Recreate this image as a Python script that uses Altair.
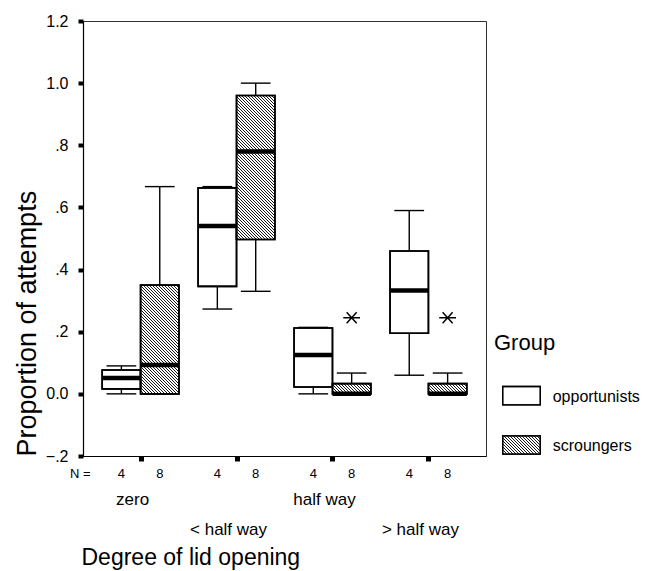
import altair as alt
import pandas as pd
import numpy as np

# ---------------- data ----------------
categories = ["zero", "< half way", "half way", "> half way"]
groups = ["opportunists", "scroungers"]
counts = [4, 8]

opp_low = [0.000, 0.273, 0.000, 0.060]
opp_q1 = [0.016, 0.346, 0.022, 0.195]
opp_med = [0.051, 0.540, 0.125, 0.333]
opp_q3 = [0.077, 0.663, 0.212, 0.460]
opp_high = [0.090, 0.667, 0.214, 0.590]

scr_low = [0.000, 0.330, 0.000, 0.000]
scr_q1 = [0.000, 0.497, 0.000, 0.000]
scr_med = [0.093, 0.780, 0.000, 0.000]
scr_q3 = [0.350, 0.960, 0.033, 0.033]
scr_high = [0.667, 1.000, 0.067, 0.067]

out_cat = ["half way", "> half way"]
out_group = ["scroungers", "scroungers"]
out_val = [0.245, 0.245]

y_ticks = [-0.2, 0.0, 0.2, 0.4, 0.6, 0.8, 1.0, 1.2]

# ---------------- layout / scales ----------------
W, H = 403, 435
XD = [-0.6, 3.6]
YD = [-0.2, 1.2]
OFF = {"opportunists": -0.2, "scroungers": 0.2}
HALF_BOX = 0.2
HALF_CAP = 0.155

xs = alt.Scale(domain=XD, nice=False, zero=False)
ys = alt.Scale(domain=YD, nice=False, zero=False)


def to_px(x):
    return (x - XD[0]) / (XD[1] - XD[0]) * W


def to_py(y):
    return (YD[1] - y) / (YD[1] - YD[0]) * H


def from_px(px):
    return XD[0] + px / W * (XD[1] - XD[0])


def from_py(py):
    return YD[1] - py / H * (YD[1] - YD[0])


def hatch(xa, xb, ya, yb, step=3.0):
    """45-degree '\\' hatch lines inside pixel rect [xa,xb]x[ya,yb] (y down)."""
    segs = []
    k0 = np.ceil((ya - xb) / step) * step
    for k in np.arange(k0, yb - xa, step):
        s = max(xa, ya - k)
        e = min(xb, yb - k)
        if e > s:
            segs.append((s, s + k, e, e + k))
    return segs


stats = {
    "opportunists": (opp_low, opp_q1, opp_med, opp_q3, opp_high),
    "scroungers": (scr_low, scr_q1, scr_med, scr_q3, scr_high),
}

rows = []
for g in groups:
    lo, q1, md, q3, hi = stats[g]
    for i, c in enumerate(categories):
        xc = i + OFF[g]
        rows.append(dict(group=g, cat=c, xc=xc,
                         x0=xc - HALF_BOX, x1=xc + HALF_BOX,
                         c0=xc - HALF_CAP, c1=xc + HALF_CAP,
                         low=lo[i], q1=q1[i], med=md[i], q3=q3[i], high=hi[i],
                         n=counts[groups.index(g)]))
box = pd.DataFrame(rows)

hrows = []
for _, r in box[box.group == "scroungers"].iterrows():
    xa, xb = to_px(r.x0), to_px(r.x1)
    ya, yb = to_py(r.q3), to_py(r.q1)
    for (sx, sy, ex, ey) in hatch(xa, xb, ya, yb):
        hrows.append(dict(hx=from_px(sx), hy=from_py(sy),
                          hx2=from_px(ex), hy2=from_py(ey)))
hat = pd.DataFrame(hrows)

outl = pd.DataFrame({
    "xc": [categories.index(c) + OFF[g] for c, g in zip(out_cat, out_group)],
    "v": out_val,
})

cats = pd.DataFrame({"i": list(range(len(categories))), "label": categories})
cats["ty"] = [from_py(483.5 + 30 * (i % 2)) for i in cats["i"]]

nlab = pd.DataFrame({"t": ["N ="]})

# legend (pixel layout converted into the shared scales, right of the plot)
LX0, LX1 = 419.7, 457.3
leg = pd.DataFrame({"group": groups})
leg_y0 = [365.5 + 49.3 * k for k in range(len(groups))]
leg["lx0"] = from_px(LX0)
leg["lx1"] = from_px(LX1)
leg["ltx"] = from_px(469.7)
leg["y0"] = [from_py(v) for v in leg_y0]
leg["y1"] = [from_py(v + 18.3) for v in leg_y0]
leg["ty"] = [from_py(v + 15.0) for v in leg_y0]
lh = []
for g, v in zip(groups, leg_y0):
    if g != "scroungers":
        continue
    for (sx, sy, ex, ey) in hatch(LX0, LX1, v, v + 18.3):
        lh.append(dict(hx=from_px(sx), hy=from_py(sy),
                       hx2=from_px(ex), hy2=from_py(ey)))
leghat = pd.DataFrame(lh)
legtitle = pd.DataFrame({"t": ["Group"]})

FONT = "Liberation Sans"

AX = alt.Axis(values=[0, 1, 2, 3], labels=False, grid=False,
              ticks=True, tickSize=5, tickWidth=5, tickColor="black",
              domainColor="black", domainWidth=1.2,
              title="Degree of lid opening", titleFontSize=23,
              titleFontWeight="normal", titleFont=FONT,
              titleColor="black", titleAlign="left",
              titleX=-2, titleY=108.5, titleBaseline="alphabetic")
AY = alt.Axis(values=y_ticks, grid=False,
              labelExpr="datum.value == 0 ? '0.0' : replace(format(datum.value, '.1f'), '0.', '.')",
              labelFontSize=16, labelFont=FONT, labelColor="black",
              labelPadding=10, tickSize=5, tickWidth=4,
              tickColor="black", domainColor="black", domainWidth=1.2,
              title="Proportion of attempts", titleFontSize=27,
              titleFontWeight="normal", titleFont=FONT,
              titleColor="black", titleAnchor="start",
              titlePadding=4)

NOX = dict(scale=xs, axis=AX)
NOY = dict(scale=ys, axis=AY)

# ---------------- layers ----------------
base = alt.Chart(box)

whisk = base.mark_rule(color="black", strokeWidth=1.4).encode(
    x=alt.X("xc:Q", **NOX), y=alt.Y("low:Q", **NOY), y2="high:Q")

cap_hi = base.mark_rule(color="black", strokeWidth=1.4).encode(
    x=alt.X("c0:Q", **NOX), x2="c1:Q", y=alt.Y("high:Q", **NOY))
cap_lo = base.mark_rule(color="black", strokeWidth=1.4).encode(
    x=alt.X("c0:Q", **NOX), x2="c1:Q", y=alt.Y("low:Q", **NOY))

boxes = base.mark_rect(fill="white", stroke="black", strokeWidth=1.6).encode(
    x=alt.X("x0:Q", **NOX), x2="x1:Q", y=alt.Y("q1:Q", **NOY), y2="q3:Q")

hatch_l = alt.Chart(hat).mark_rule(color="black", strokeWidth=0.9).encode(
    x=alt.X("hx:Q", **NOX), x2="hx2:Q", y=alt.Y("hy:Q", **NOY), y2="hy2:Q")

outline = base.mark_rect(fillOpacity=0, stroke="black", strokeWidth=1.6).encode(
    x=alt.X("x0:Q", **NOX), x2="x1:Q", y=alt.Y("q1:Q", **NOY), y2="q3:Q")

median = base.mark_rule(color="black", strokeWidth=4.5).encode(
    x=alt.X("x0:Q", **NOX), x2="x1:Q", y=alt.Y("med:Q", **NOY))

star = alt.Chart(outl).mark_point(
    shape="M-1,0L1,0M-0.6,-0.65L0.6,0.65M-0.6,0.65L0.6,-0.65",
    size=280, filled=False, stroke="black", strokeWidth=1.5, opacity=1).encode(
    x=alt.X("xc:Q", **NOX), y=alt.Y("v:Q", **NOY))

ntext = base.mark_text(font=FONT, fontSize=13, color="black",
                       baseline="alphabetic", align="center").encode(
    x=alt.X("xc:Q", **NOX), y=alt.value(456.5), text="n:Q")

nlabel = alt.Chart(nlab).mark_text(font=FONT, fontSize=13, color="black",
                                   baseline="alphabetic", align="left").encode(
    x=alt.value(-13), y=alt.value(456.5), text="t:N")

ctext = alt.Chart(cats).mark_text(font=FONT, fontSize=17, color="black",
                                  baseline="alphabetic", align="center", dx=-8).encode(
    x=alt.X("i:Q", **NOX), y=alt.Y("ty:Q", **NOY), text="label:N")

ltitle = alt.Chart(legtitle).mark_text(font=FONT, fontSize=22, color="black",
                                       baseline="alphabetic", align="left").encode(
    x=alt.value(411), y=alt.value(328.5), text="t:N")

lrect = alt.Chart(leg).mark_rect(fill="white", stroke="black", strokeWidth=1.3).encode(
    x=alt.X("lx0:Q", **NOX), x2="lx1:Q", y=alt.Y("y0:Q", **NOY), y2="y1:Q")

lhatch = alt.Chart(leghat).mark_rule(color="black", strokeWidth=0.9).encode(
    x=alt.X("hx:Q", **NOX), x2="hx2:Q", y=alt.Y("hy:Q", **NOY), y2="hy2:Q")

lrect2 = alt.Chart(leg).mark_rect(fillOpacity=0, stroke="black", strokeWidth=1.3).encode(
    x=alt.X("lx0:Q", **NOX), x2="lx1:Q", y=alt.Y("y0:Q", **NOY), y2="y1:Q")

ltext = alt.Chart(leg).mark_text(font=FONT, fontSize=16, color="black",
                                 baseline="alphabetic", align="left").encode(
    x=alt.X("ltx:Q", **NOX), y=alt.Y("ty:Q", **NOY), text="group:N")

chart = alt.layer(
    whisk, cap_hi, cap_lo, boxes, hatch_l, outline, median, star,
    ntext, nlabel, ctext, ltitle, lrect, lhatch, lrect2, ltext,
).properties(
    width=W, height=H,
    padding={"left": 5, "top": 5, "right": 0, "bottom": 0},
).configure(
    font=FONT, background="white"
).configure_view(
    stroke="#333", strokeWidth=1
)

chart.save("out.html", embed_options={"renderer": "svg", "actions": False})
